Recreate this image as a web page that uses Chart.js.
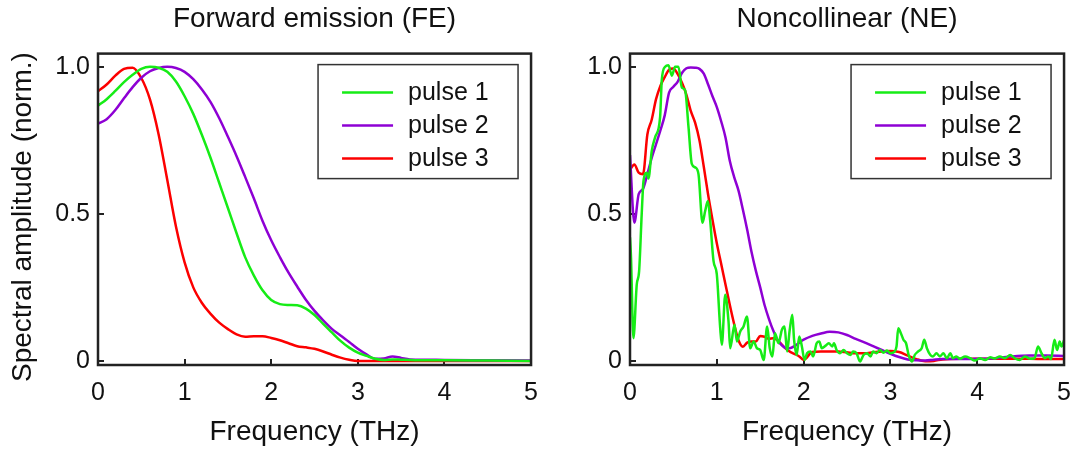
<!DOCTYPE html>
<html>
<head>
<meta charset="utf-8">
<script src="https://cdn.jsdelivr.net/npm/chart.js@4"></script>
<style>
  html, body { margin: 0; padding: 0; background: #fff; }
  #wrap { position: relative; width: 1073px; height: 452px; overflow: hidden; }
  #fe { position: absolute; left: 0; top: 0; }
  #ne { position: absolute; left: 540px; top: 0; }
</style>
</head>
<body>
<div id="wrap">
  <canvas id="fe" width="557" height="452"></canvas>
  <canvas id="ne" width="550" height="452"></canvas>
</div>
<script>
// ---- data ----
const seriesNames = ['pulse 1', 'pulse 2', 'pulse 3'];
const seriesColors = ['rgb(22,236,22)', 'rgb(142,0,212)', 'rgb(252,0,0)'];
const xTicks = [0, 1, 2, 3, 4, 5];
const yTicks = [0, 0.5, 1];

// Forward emission (FE)
const freqFE = [0, 0.1, 0.2, 0.3, 0.4, 0.5, 0.6, 0.7, 0.8, 0.9,
  1.0, 1.1, 1.2, 1.3, 1.4, 1.5, 1.6, 1.7, 1.8, 1.9,
  2.0, 2.1, 2.2, 2.3, 2.4, 2.5, 2.6, 2.7, 2.8, 2.9,
  3.0, 3.1, 3.2, 3.3, 3.4, 3.5, 3.6, 3.8, 4.0, 4.5, 5.0];
const fePulse1 = [0.868, 0.89, 0.918, 0.948, 0.973, 0.993, 1.0, 0.997, 0.983, 0.95,
  0.9, 0.84, 0.768, 0.69, 0.605, 0.52, 0.434, 0.352, 0.29, 0.24,
  0.207, 0.193, 0.19, 0.189, 0.178, 0.156, 0.126, 0.097, 0.068, 0.045,
  0.028, 0.017, 0.007, 0.003, 0.005, 0.004, 0.003, 0.002, 0.002, 0.001, 0.0];
const fePulse2 = [0.807, 0.822, 0.853, 0.893, 0.931, 0.963, 0.985, 0.996, 1.0, 0.996,
  0.983, 0.958, 0.923, 0.88, 0.825, 0.762, 0.696, 0.625, 0.552, 0.476,
  0.41, 0.353, 0.3, 0.253, 0.208, 0.17, 0.138, 0.109, 0.086, 0.064,
  0.041, 0.022, 0.007, 0.008, 0.015, 0.01, 0.005, 0.004, 0.003, 0.002, 0.001];
const fePulse3 = [0.917, 0.94, 0.97, 0.993, 0.997, 0.962, 0.889, 0.77, 0.615, 0.457,
  0.335, 0.25, 0.197, 0.16, 0.13, 0.108, 0.09, 0.082, 0.084, 0.084,
  0.078, 0.07, 0.06, 0.05, 0.046, 0.041, 0.032, 0.021, 0.011, 0.004,
  0, 0, 0, 0, 0, 0, 0, 0, 0, 0, 0];

// Noncollinear (NE), pulses 2 and 3
const freqNE = [0, 0.05, 0.1, 0.15, 0.2, 0.25, 0.3, 0.35, 0.4, 0.45,
  0.5, 0.55, 0.6, 0.65, 0.7, 0.75, 0.8, 0.85, 0.9, 0.95,
  1.0, 1.05, 1.1, 1.15, 1.2, 1.25, 1.3, 1.35, 1.4, 1.45,
  1.5, 1.55, 1.6, 1.65, 1.7, 1.75, 1.8, 1.85, 1.9, 1.95, 2.0,
  2.1, 2.2, 2.3, 2.4, 2.5, 2.6, 2.7, 2.8, 2.9, 3.0, 3.1, 3.2, 3.3, 3.4, 3.5, 3.6,
  3.8, 4.0, 4.2, 4.4, 4.6, 4.8, 5.0];
const nePulse2 = [0.70, 0.47, 0.567, 0.585, 0.635, 0.69, 0.737, 0.784, 0.835, 0.912,
  0.932, 0.95, 0.98, 0.995, 0.998, 0.997, 0.993, 0.977, 0.94, 0.90,
  0.863, 0.815, 0.76, 0.68, 0.625, 0.579, 0.515, 0.446, 0.37, 0.306,
  0.25, 0.19, 0.143, 0.103, 0.071, 0.053, 0.043, 0.044, 0.051, 0.062, 0.072,
  0.085, 0.093, 0.099, 0.097, 0.088, 0.075, 0.063, 0.05, 0.037, 0.024, 0.013, 0.005, 0.002, 0.001, 0.004, 0.006,
  0.006, 0.007, 0.009, 0.015, 0.018, 0.018, 0.017];
const nePulse3 = [0.65, 0.668, 0.64, 0.635, 0.77, 0.82, 0.89, 0.935, 0.965, 0.99,
  0.994, 0.975, 0.945, 0.905, 0.85, 0.81, 0.75, 0.66, 0.565, 0.48,
  0.40, 0.33, 0.26, 0.19, 0.125, 0.07, 0.048, 0.062, 0.066, 0.066,
  0.085, 0.082, 0.075, 0.077, 0.07, 0.055, 0.04, 0.03, 0.023, 0.015, 0.004,
  0.03, 0.032, 0.032, 0.032, 0.029, 0.026, 0.026, 0.029, 0.032, 0.034, 0.03, 0.018, 0.006, -0.001, 0, 0.005,
  0.007, 0.007, 0.007, 0.007, 0.007, 0.006, 0.006];

// Noncollinear (NE), pulse 1 (noisy, own sampling)
const neFreq1 = [0, 0.012, 0.039, 0.078, 0.105, 0.135, 0.155, 0.193, 0.212, 0.251,
  0.289, 0.347, 0.366, 0.405, 0.443, 0.482, 0.52, 0.558, 0.597, 0.635,
  0.674, 0.712, 0.751, 0.789, 0.835, 0.866, 0.897, 0.924, 0.962, 1.0,
  1.039, 1.058, 1.097, 1.135, 1.154, 1.204, 1.232, 1.27, 1.308, 1.347,
  1.385, 1.424, 1.462, 1.5, 1.54, 1.58, 1.61, 1.64, 1.67, 1.71,
  1.75, 1.78, 1.81, 1.84, 1.87, 1.89, 1.92, 1.95, 1.98, 2.01,
  2.04, 2.08, 2.11, 2.15, 2.18, 2.21, 2.25, 2.29, 2.33, 2.35,
  2.38, 2.42, 2.46, 2.5, 2.54, 2.57, 2.61, 2.65, 2.69, 2.73,
  2.77, 2.8, 2.84, 2.88, 2.92, 2.96, 3.0, 3.03, 3.07, 3.09,
  3.12, 3.15, 3.18, 3.21, 3.25, 3.28, 3.32, 3.36, 3.39, 3.42,
  3.46, 3.49, 3.53, 3.57, 3.61, 3.65, 3.69, 3.72, 3.76, 3.8,
  3.86, 3.92, 3.97, 4.03, 4.09, 4.15, 4.2, 4.26, 4.32, 4.38,
  4.43, 4.49, 4.55, 4.61, 4.66, 4.7, 4.74, 4.78, 4.82, 4.85,
  4.89, 4.92, 4.95, 4.97, 5.0];
const nePulse1 = [0.42, 0.35, 0.077, 0.26, 0.305, 0.5, 0.61, 0.64, 0.62, 0.715,
  0.76, 0.83, 0.955, 1.0, 1.005, 0.97, 1.0, 1.0, 0.93, 0.92,
  0.795, 0.67, 0.658, 0.635, 0.47, 0.51, 0.544, 0.476, 0.34, 0.294,
  0.112, 0.055, 0.225, 0.134, 0.043, 0.123, 0.066, 0.1, 0.117, 0.151,
  0.043, 0.066, 0.043, 0.037, 0.003, 0.117, 0.043, 0.015, 0.094, 0.06,
  0.106, 0.117, 0.032, 0.106, 0.157, 0.072, 0.02, 0.083, 0.049, 0.003,
  0.026, 0.032, 0.015, 0.06, 0.066, 0.043, 0.051, 0.06, 0.049, 0.06,
  0.037, 0.026, 0.037, 0.026, 0.02, 0.032, 0.026, -0.002, 0.02, 0.026,
  0.015, 0.032, 0.026, 0.037, 0.028, 0.035, 0.026, 0.028, 0.049, 0.111,
  0.094, 0.072, 0.06, 0.02, -0.002, 0.02, 0.032, 0.043, 0.072, 0.043,
  0.02, 0.015, 0.026, 0.015, 0.026, 0.009, 0.026, 0.009, 0.015, 0.007,
  0.015, 0.009, 0.001, 0.009, 0.003, 0.012, 0.008, 0.015, 0.009, 0.02,
  0.009, 0.003, 0.015, 0.007, 0.009, 0.049, 0.026, 0.009, 0.015, 0.006,
  0.072, 0.037, 0.066, 0.049, 0.07];

// ---- chart setup ----
Chart.defaults.font.family = '"Liberation Sans", Arial, sans-serif';
Chart.defaults.color = '#111';

function points(xs, ys) {
  return xs.map((x, i) => ({ x: x, y: ys[i] }));
}

function makeDatasets(list) {
  return list.map((pts, i) => ({
    label: seriesNames[i],
    data: pts,
    borderColor: seriesColors[i],
    borderWidth: 2.5,
    pointRadius: 0,
    cubicInterpolationMode: 'monotone',
    fill: false
  }));
}

// box round the plot area
const frame = {
  id: 'frame',
  afterDatasetsDraw(chart) {
    const { ctx, chartArea: a } = chart;
    ctx.save();
    ctx.strokeStyle = '#222';
    ctx.lineWidth = 2.5;
    ctx.strokeRect(a.left, a.top, a.right - a.left, a.bottom - a.top);
    ctx.restore();
  }
};

// boxed legend in the upper right corner of the plot
const boxLegend = {
  id: 'boxLegend',
  afterDraw(chart) {
    const { ctx, chartArea: a } = chart;
    const x0 = a.right - 213, y0 = a.top + 11;
    ctx.save();
    ctx.fillStyle = '#fff';
    ctx.fillRect(x0, y0, 200, 114);
    ctx.strokeStyle = '#333';
    ctx.lineWidth = 1.5;
    ctx.strokeRect(x0, y0, 200, 114);
    ctx.font = '25px "Liberation Sans", Arial, sans-serif';
    ctx.textBaseline = 'alphabetic';
    chart.data.datasets.forEach((ds, i) => {
      const y = y0 + 28 + i * 33;
      ctx.strokeStyle = ds.borderColor;
      ctx.lineWidth = 2.5;
      ctx.beginPath();
      ctx.moveTo(x0 + 24, y);
      ctx.lineTo(x0 + 75, y);
      ctx.stroke();
      ctx.fillStyle = '#111';
      ctx.fillText(ds.label, x0 + 90, y + 7);
    });
    ctx.restore();
  }
};

function makeOptions(title, yTitle, yWidth) {
  const grid = { drawOnChartArea: false, tickLength: -6, color: '#222', lineWidth: 2 };
  return {
    responsive: false,
    animation: false,
    layout: { padding: { left: 0, right: 0, top: 0, bottom: 0 } },
    plugins: {
      legend: { display: false },
      tooltip: { enabled: false },
      title: {
        display: true,
        text: title,
        fullSize: false,
        color: '#111',
        font: { size: 28, weight: 'normal' },
        padding: { top: 2, bottom: 18 }
      }
    },
    scales: {
      x: {
        type: 'linear',
        min: 0,
        max: 5,
        afterBuildTicks: s => { s.ticks = xTicks.map(v => ({ value: v })); },
        ticks: { padding: 19, font: { size: 25 }, color: '#111', maxRotation: 0 },
        grid: grid,
        border: { display: false },
        title: {
          display: true,
          text: 'Frequency (THz)',
          color: '#111',
          font: { size: 28 },
          padding: { top: 3, bottom: 3 }
        },
        afterFit: s => { s.height = 87; }
      },
      y: {
        min: -0.014,
        max: 1.045,
        afterBuildTicks: s => { s.ticks = yTicks.map(v => ({ value: v })); },
        ticks: {
          padding: 14,
          font: { size: 25 },
          color: '#111',
          callback: v => v === 0 ? '0' : v.toFixed(1)
        },
        grid: grid,
        border: { display: false },
        title: {
          display: !!yTitle,
          text: yTitle,
          color: '#111',
          font: { size: 28 },
          padding: { top: 6, bottom: 0 }
        },
        afterFit: s => { s.width = yWidth; }
      }
    }
  };
}

new Chart(document.getElementById('fe'), {
  type: 'line',
  data: {
    datasets: makeDatasets([
      points(freqFE, fePulse1),
      points(freqFE, fePulse2),
      points(freqFE, fePulse3)
    ])
  },
  options: makeOptions('Forward emission (FE)', 'Spectral amplitude (norm.)  ', 98),
  plugins: [frame, boxLegend]
});

new Chart(document.getElementById('ne'), {
  type: 'line',
  data: {
    datasets: makeDatasets([
      points(neFreq1, nePulse1),
      points(freqNE, nePulse2),
      points(freqNE, nePulse3)
    ])
  },
  options: makeOptions('Noncollinear (NE)', '', 90),
  plugins: [frame, boxLegend]
});
</script>
</body>
</html>
